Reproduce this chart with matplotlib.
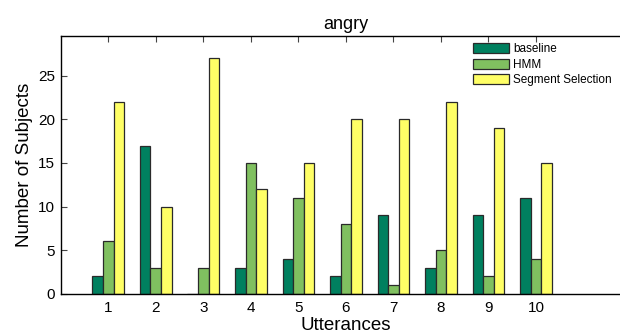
import matplotlib
matplotlib.use("Agg")
import matplotlib.pyplot as plt
import numpy as np

plt.rcParams['font.family'] = ['Liberation Sans', 'DejaVu Sans']

utterances = [1, 2, 3, 4, 5, 6, 7, 8, 9, 10]
baseline = [2, 17, 0, 3, 4, 2, 9, 3, 9, 11]
hmm = [6, 3, 3, 15, 11, 8, 1, 5, 2, 4]
segment_selection = [22, 10, 27, 12, 15, 20, 20, 22, 19, 15]

series = [
    ("baseline", baseline, "#00805F"),
    ("HMM", hmm, "#80C060"),
    ("Segment Selection", segment_selection, "#FFFF66"),
]

fig = plt.figure(figsize=(6.2, 3.35), dpi=100)
ax = fig.add_axes([0.0979, 0.1233, 0.920, 0.770])

x = np.array(utterances, dtype=float)
bar_w = 0.222
for k, (label, vals, color) in enumerate(series):
    ax.bar(x + (k - 1) * bar_w, vals, width=bar_w, color=color,
           edgecolor="#2a2a2a", linewidth=0.9, label=label, zorder=2)

ax.set_xlim(0, 12)
ax.set_ylim(0, 29.6)
ax.set_xticks(utterances)
ax.set_yticks([0, 5, 10, 15, 20, 25])
ax.tick_params(axis="both", direction="in", length=4, width=0.8,
               labelsize=11, color="#444444", pad=4)
ax.tick_params(axis="x", top=True, pad=5)
for sp in ax.spines.values():
    sp.set_linewidth(1.0)
    sp.set_color("black")

ax.set_title("angry", fontsize=13, pad=5)
ax.set_xlabel("Utterances", fontsize=13.5, labelpad=2)
ax.set_ylabel("Number of Subjects", fontsize=13.5, labelpad=4)

ax.legend(loc="upper left", bbox_to_anchor=(0.763, 0.872),
          bbox_transform=fig.transFigure, frameon=False, fontsize=8.5,
          borderpad=0, handlelength=3.05, handleheight=0.95,
          handletextpad=0.34, labelspacing=0.3, borderaxespad=0)

fig.savefig("out.png", dpi=100)
